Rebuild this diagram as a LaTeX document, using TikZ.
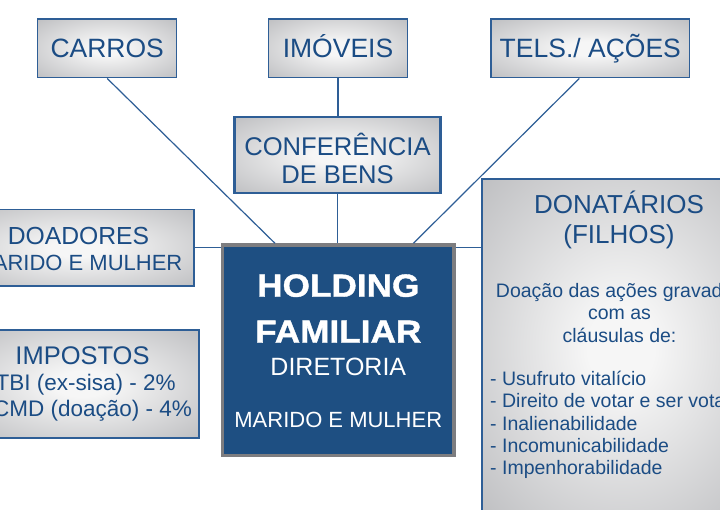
\documentclass[tikz,border=0pt]{standalone}
\usepackage{fontspec}
\setmainfont{Liberation Sans}
\newfontfamily\widefont[FakeStretch=1.1,FakeBold=1.2]{Liberation Sans}
\usepackage{tikz}
\usetikzlibrary{calc}
\definecolor{TextBlue}{RGB}{27,76,132}
\definecolor{LineBlue}{RGB}{46,94,150}
\definecolor{HoldBlue}{RGB}{30,79,130}
\definecolor{FrameGray}{RGB}{125,125,128}
\definecolor{GlowIn}{RGB}{246,246,246}
\definecolor{GlowOut}{RGB}{160,161,165}
\pgfdeclareradialshading{glow}{\pgfpoint{0bp}{0bp}}{color(0bp)=(GlowIn); color(6bp)=(GlowIn); color(52bp)=(GlowOut); color(72bp)=(GlowOut)}
\newcommand{\fsz}[1]{\fontsize{#1}{#1}\selectfont}

\begin{document}
\begin{tikzpicture}[x=1pt,y=-1pt,
    glowbox/.style={rectangle, draw=LineBlue, line width=1.4pt, shading=glow, inner sep=0pt},
    inktext/.style={anchor=base, inner sep=0pt, text=TextBlue},
    whitetext/.style={anchor=base, inner sep=0pt, text=white},
    link/.style={draw=LineBlue, line width=1.2pt}]
            \useasboundingbox (0,0) rectangle (720,509);
            \clip (0,0) rectangle (720,509);
            \fill[white] (0,0) rectangle (720,509);

            % Draw the asset boxes on top
            \foreach \x/\w/\name/\txt in {107.2/139/carros/CARROS, 338/138.6/imoveis/IMÓVEIS, 590.3/198.6/tels/{TELS./ AÇÕES}}{
                \node[glowbox, minimum width=\w pt, minimum height=58.7pt, font=\fsz{26.5}, text=TextBlue, text height=19pt, text depth=0pt] (\name) at (\x,48.4) {\txt};
            }

            % conferencia box
            \node[glowbox, line width=2.4pt, minimum width=206pt, minimum height=76pt] (conf) at (337.5,154.9) {};
            \node[inktext, font=\fsz{25.6}] (conf1) at (337.5,155) {CONFERÊNCIA};
            \node[inktext, font=\fsz{25.6}] (conf2) at (337.5,183.3) {DE BENS};

            % Draw the holding
            \node[rectangle, draw=FrameGray, fill=HoldBlue, line width=3.5pt, minimum width=231.5pt, minimum height=210.5pt] (holding) at (338.2,350.3) {};
            \node[whitetext, font=\widefont\bfseries\fsz{32}] (hold1) at (338.3,296.7) {HOLDING};
            \node[whitetext, font=\widefont\bfseries\fsz{32}] (hold2) at (338.3,342.7) {FAMILIAR};
            \node[whitetext, font=\fsz{25}] (hold3) at (338.3,375) {DIRETORIA};
            \node[whitetext, font=\fsz{22}] (hold4) at (338.3,427.7) {MARIDO E MULHER};

            % doadores and impostos on the left
            \node[glowbox, line width=1.7pt, minimum width=231pt, minimum height=76.7pt] (doadores) at (78.6,247.7) {};
            \node[inktext, font=\fsz{24.7}] (doad1) at (78.5,244.3) {DOADORES};
            \node[inktext, font=\fsz{22}] (doad2) at (78.5,270.7) {MARIDO E MULHER};

            \node[glowbox, line width=1.7pt, minimum width=233pt, minimum height=107.7pt] (impostos) at (82.5,383.8) {};
            \node[inktext, font=\fsz{25.5}] (imp1) at (82.5,364) {IMPOSTOS};
            \node[inktext, font=\fsz{22.5}] (imp2) at (82.5,390) {ITBI (ex-sisa) - 2\%};
            \node[inktext, font=\fsz{22.5}] (imp3) at (82.5,416) {ITCMD (doação) - 4\%};

            % Draw the donatarios box
            \node[glowbox, line width=2pt, minimum width=278.3pt, minimum height=336pt] (donat) at (620.9,347) {};
            \node[inktext, font=\fsz{26}] (don1) at (619,213.5) {DONATÁRIOS};
            \node[inktext, font=\fsz{26}] (don2) at (619,243.5) {(FILHOS)};
            \node[inktext, font=\fsz{19.5}] (don3) at (619.5,297.3) {Doação das ações gravadas};
            \node[inktext, font=\fsz{19.5}] (don4) at (619.5,319.7) {com as};
            \node[inktext, font=\fsz{19.5}] (don5) at (619.5,342.5) {cláusulas de:};
            \foreach \txt[count=\c] in {Usufruto vitalício, Direito de votar e ser votado, Inalienabilidade, Incomunicabilidade, Impenhorabilidade}{
                \node[inktext, anchor=base west, font=\fsz{19.5}] (item\c) at (490,{385.7+22.2*(\c-1)}) {- \txt};
            }

            % connectors to the holding
            \draw[link] (carros.south) -- ($(holding.north west)!0.231!(holding.north east)$);
            \draw[link] ($(tels.south west)!0.445!(tels.south east)$) -- ($(holding.north west)!0.82!(holding.north east)$);
            \draw[link] (imoveis.south) -- (imoveis.south |- conf.north);
            \draw[link] (conf.south) -- (conf.south |- holding.north);
            \draw[link] (doadores.east) -- (doadores.east -| holding.west);
            \draw[link] (doadores.east -| holding.east) -- (doadores.east -| donat.west);
\end{tikzpicture}
\end{document}
